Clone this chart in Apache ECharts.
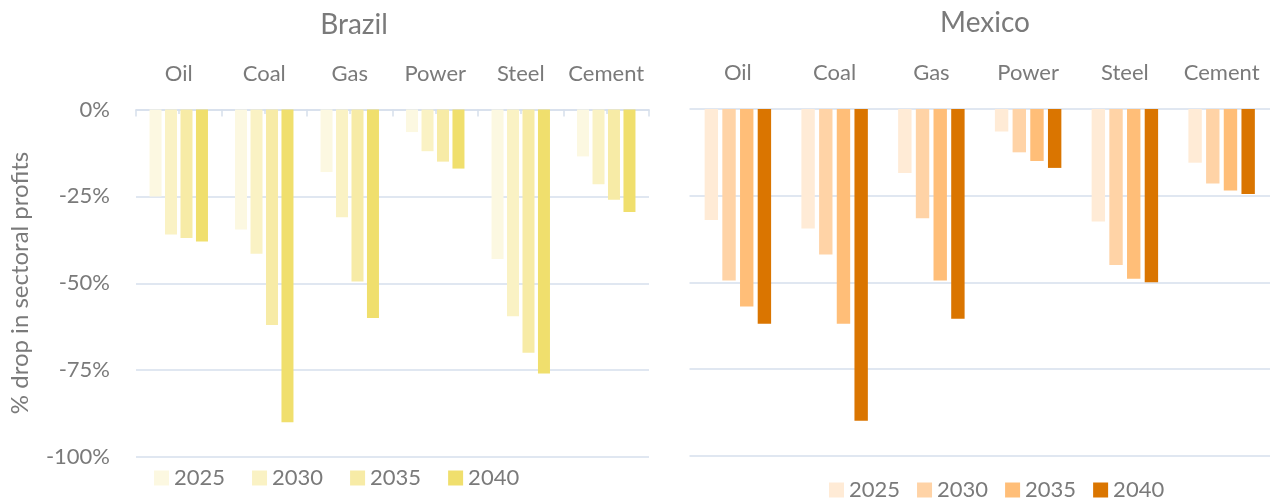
<!DOCTYPE html>
<html>
<head>
<meta charset="utf-8">
<script src="https://cdn.jsdelivr.net/npm/echarts@6/dist/echarts.min.js"></script>
<style>
html,body{margin:0;padding:0;background:#fff;}
#chart{width:1271px;height:502px;}
</style>
</head>
<body>
<div id="chart"></div>
<script>
// ---- data ----
const sectors = ['Oil', 'Coal', 'Gas', 'Power', 'Steel', 'Cement'];
const years = ['2025', '2030', '2035', '2040'];
const yTicks = [0, -25, -50, -75, -100];

const brazil2025 = [-25, -34.5, -18, -6.5, -43, -13.5];
const brazil2030 = [-36, -41.5, -31, -12, -59.5, -21.5];
const brazil2035 = [-37, -62, -49.5, -15, -70, -26];
const brazil2040 = [-38, -90, -60, -17, -76, -29.5];

const mexico2025 = [-32, -34.5, -18.5, -6.5, -32.5, -15.5];
const mexico2030 = [-49.5, -42, -31.5, -12.5, -45, -21.5];
const mexico2035 = [-57, -62, -49.5, -15, -49, -23.5];
const mexico2040 = [-62, -90, -60.5, -17, -50, -24.5];

const brazilColors = ['#FCF8E1', '#FAF2C4', '#F7EBA6', '#F0DF6D'];
const mexicoColors = ['#FFEBD6', '#FFD3A6', '#FFBE78', '#DA7500'];

const brazilSeries = [brazil2025, brazil2030, brazil2035, brazil2040];
const mexicoSeries = [mexico2025, mexico2030, mexico2035, mexico2040];

// ---- chart ----
const FONT = 'Lato';
const GRAY = '#7A7A7A';
const GRID = '#D6DFEC';
const minorCats = [];
sectors.forEach(s => { minorCats.push(s + 'a'); minorCats.push(s + 'b'); });

const chart = echarts.init(document.getElementById('chart'), null, {renderer: 'canvas'});

const series = [];
years.forEach((y, i) => {
  series.push({
    name: y, type: 'bar', xAxisIndex: 0, yAxisIndex: 0,
    data: brazilSeries[i], barWidth: 12, barGap: '29%',
    itemStyle: {color: brazilColors[i]}, silent: true
  });
});
years.forEach((y, i) => {
  series.push({
    name: y, type: 'bar', xAxisIndex: 2, yAxisIndex: 1,
    data: mexicoSeries[i], barWidth: 13.4, barGap: '32%',
    itemStyle: {color: mexicoColors[i]}, silent: true
  });
});

const option = {
  animation: false,
  backgroundColor: '#fff',
  textStyle: {fontFamily: FONT},
  title: [
    {text: 'Brazil', left: 349, top: 6, textAlign: 'center',
     textStyle: {fontFamily: FONT, fontSize: 28, fontWeight: 'normal', color: GRAY}},
    {text: 'Mexico', left: 980, top: 4, textAlign: 'center',
     textStyle: {fontFamily: FONT, fontSize: 28, fontWeight: 'normal', color: GRAY}}
  ],
  legend: [
    {left: 149, top: 462, itemWidth: 15, itemHeight: 15, itemGap: 27,
     icon: 'rect',
     textStyle: {fontFamily: FONT, fontSize: 22, color: GRAY},
     data: years.map((y, i) => ({name: y, itemStyle: {color: brazilColors[i]}}))},
    {left: 824, top: 474, itemWidth: 15, itemHeight: 15, itemGap: 17,
     icon: 'rect',
     textStyle: {fontFamily: FONT, fontSize: 22, color: GRAY},
     data: years.map((y, i) => ({name: y, itemStyle: {color: mexicoColors[i]}}))}
  ],
  grid: [
    {left: 136, top: 109.5, width: 513, height: 347.5},
    {left: 689.5, top: 109, width: 580.5, height: 346.5}
  ],
  xAxis: [
    {type: 'category', gridIndex: 0, position: 'top', data: sectors,
     axisLine: {show: true, lineStyle: {color: GRID, width: 1.5}},
     axisTick: {show: true, inside: true, length: 7, lineStyle: {color: GRID, width: 1.5}},
     axisLabel: {interval: 0, fontFamily: FONT, fontSize: 22, color: GRAY, margin: 25}},
    {type: 'category', gridIndex: 0, position: 'top', data: minorCats,
     axisLine: {show: false},
     axisTick: {show: true, inside: true, length: 4.5, interval: 0, lineStyle: {color: GRID, width: 1.5}},
     axisLabel: {show: false}},
    {type: 'category', gridIndex: 1, position: 'top', data: sectors,
     axisLine: {show: false},
     axisTick: {show: false},
     axisLabel: {interval: 0, fontFamily: FONT, fontSize: 22, color: GRAY, margin: 25}}
  ],
  yAxis: [
    {type: 'value', gridIndex: 0, min: -100, max: 0, interval: 25,
     axisLine: {show: false}, axisTick: {show: false},
     axisLabel: {fontFamily: FONT, fontSize: 22, color: GRAY, margin: 26,
       formatter: v => v + '%'},
     splitLine: {show: true, lineStyle: {color: GRID, width: 1.5}}},
    {type: 'value', gridIndex: 1, min: -100, max: 0, interval: 25,
     axisLine: {show: false}, axisTick: {show: false},
     axisLabel: {show: false},
     splitLine: {show: true, lineStyle: {color: GRID, width: 1.5}}}
  ],
  graphic: [
    {type: 'text', x: 20, y: 283, rotation: Math.PI / 2,
     style: {text: '% drop in sectoral profits', fontFamily: FONT, fontSize: 24,
       fill: GRAY, textAlign: 'center', textVerticalAlign: 'middle'}}
  ],
  series: series
};
chart.setOption(option);
</script>
</body>
</html>
